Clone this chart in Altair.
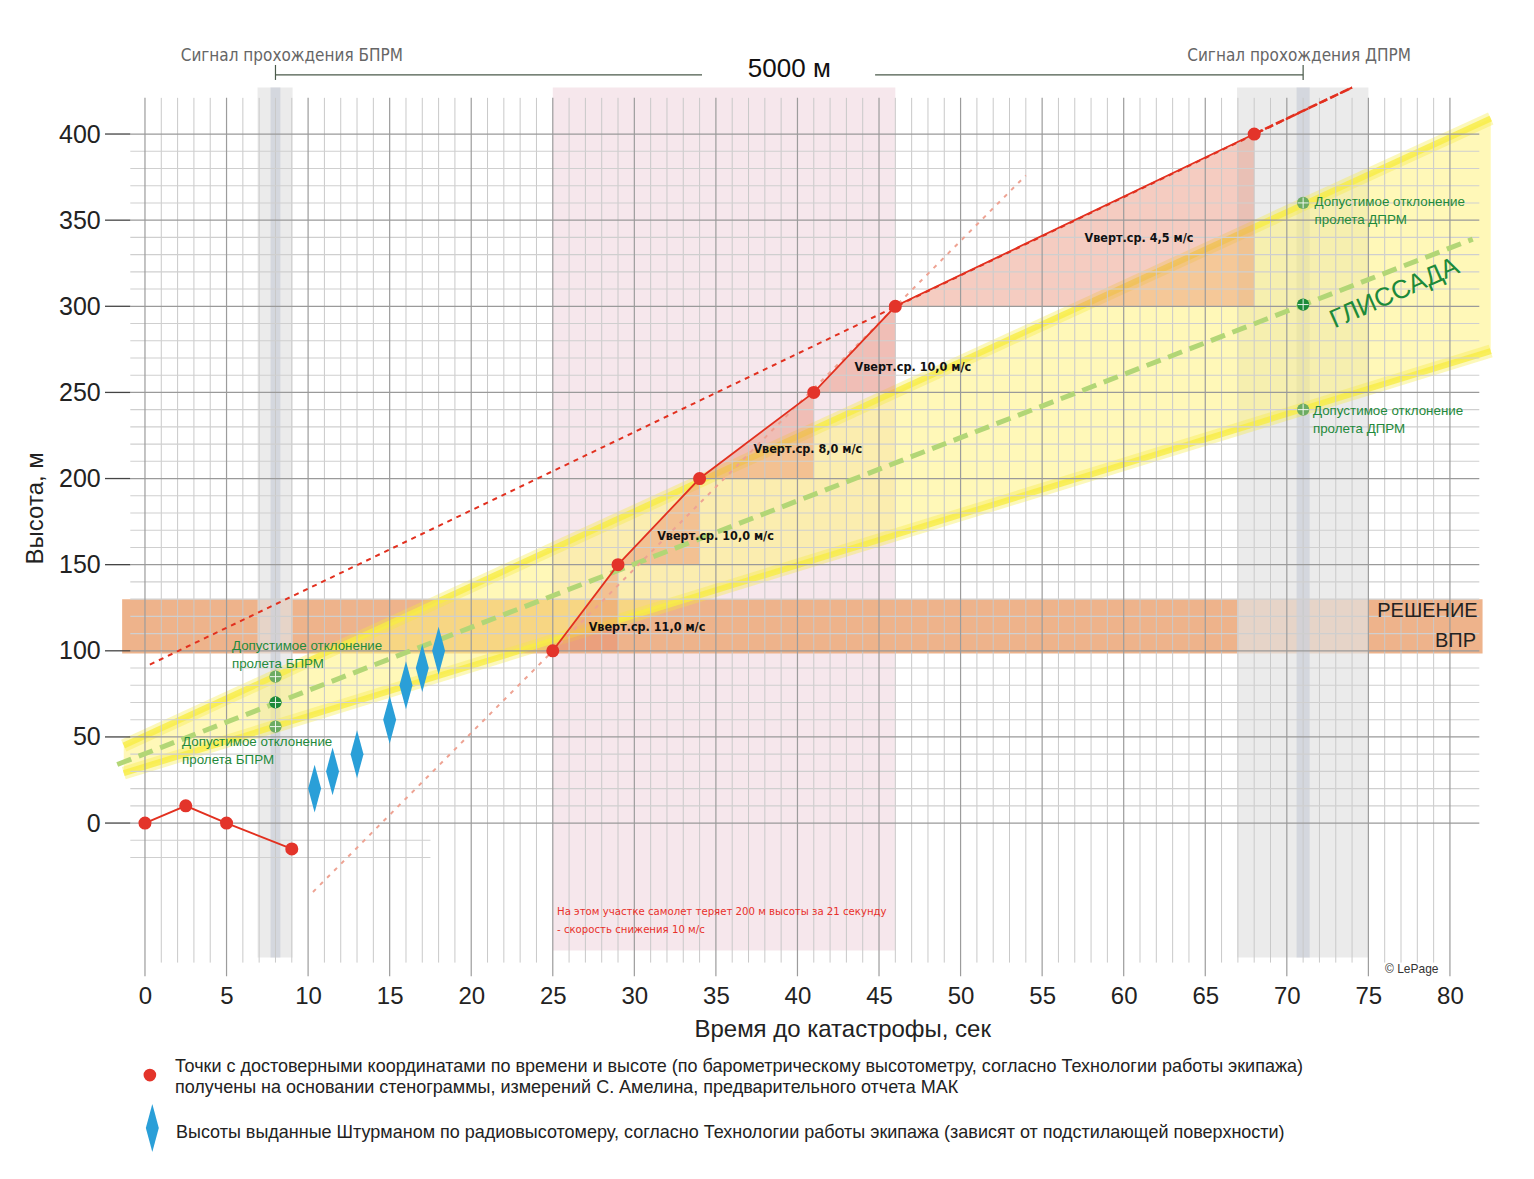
import altair as alt
import pandas as pd

SANS = "Liberation Sans, Arial, Helvetica, sans-serif"
NARROW = "Liberation Sans Narrow, Arial Narrow, DejaVu Sans Condensed, Liberation Sans, sans-serif"

# ---------------- data ----------------
early_t = [0, 2.5, 5, 9]
early_h = [0, 10, 0, -15]

traj_t = [25, 29, 34, 41, 46, 68]
traj_h = [100, 150, 200, 250, 300, 400]
traj_ext_t = [68, 74]
traj_ext_h = [400, 427]

nav_t = [10.4, 11.5, 13, 15, 16, 17, 18]
nav_h = [20, 30, 40, 60, 80, 90, 100]

speed_labels = ["Vверт.ср.  11,0 м/с", "Vверт.ср.  10,0 м/с", "Vверт.ср.  8,0 м/с",
                "Vверт.ср.  10,0 м/с", "Vверт.ср.  4,5 м/с"]
speed_label_t = [27.2, 31.4, 37.3, 43.5, 57.6]
speed_label_h = [114, 166.5, 217, 264.5, 339.5]

glide_band_t = [-1.3, 82.5]
glide_upper_h = [45, 409]
glide_lower_h = [29, 274]
glide_center_t = [-1.7, 81.4]
glide_center_h = [34, 339]

bprm_t = [8, 8, 8]
bprm_h = [85, 70, 56]
dprm_t = [71, 71, 71]
dprm_h = [360, 301, 240]
marker_kind = ["limit", "center", "limit"]

trend_a_t = [0.3, 74]
trend_a_h = [92, 427]
trend_b_t = [10.3, 54]
trend_b_h = [-40, 376]

pink_t = [25, 46]
pink_h = [-74, 427]
vpr_t = [-1.4, 82]
vpr_h = [98.5, 130]
zone_t = [6.9, 66.95]
zone_t2 = [9.05, 75.0]
core_t = [7.7, 70.6]
core_t2 = [8.3, 71.4]
zone_h = [-78, 427]

x_grid = list(range(0, 81))
y_grid = list(range(0, 401, 10))
y_grid_low = [-10, -20]

# ---------------- scales / axes ----------------
xs = alt.Scale(domain=[-2.5, 84], nice=False, zero=False)
ys = alt.Scale(domain=[-90, 428], nice=False, zero=False)
xaxis = alt.Axis(values=list(range(0, 81, 5)), title="Время до катастрофы, сек", grid=False,
                 domain=False, ticks=False, tickSize=0, labelFont=SANS, labelFontSize=24,
                 labelColor="#222", labelPadding=6, titleFont=SANS, titleFontSize=24,
                 titleFontWeight="normal", titleColor="#222", titleX=738, titleY=39,
                 titleAlign="center", titleBaseline="top")
yaxis = alt.Axis(values=list(range(0, 401, 50)), title="Высота, м", grid=False,
                 domain=False, ticks=False, tickSize=0, labelFont=SANS, labelFontSize=25,
                 labelColor="#222", labelPadding=4, titleFont=SANS, titleFontSize=24,
                 titleFontWeight="normal", titleColor="#222", titleX=-62, titleY=422,
                 titleAngle=270, titleAlign="center", titleBaseline="alphabetic")


def X(f):
    return alt.X(f"{f}:Q", scale=xs, axis=xaxis)


def Y(f):
    return alt.Y(f"{f}:Q", scale=ys, axis=yaxis)


layers = []

# background zones
pink_df = pd.DataFrame({"t": [pink_t[0]], "t2": [pink_t[1]], "h": [pink_h[0]], "h2": [pink_h[1]]})
layers.append(alt.Chart(pink_df).mark_rect(color="#f6e7ec").encode(x=X("t"), x2="t2", y=Y("h"), y2="h2"))

vpr_df = pd.DataFrame({"t": [vpr_t[0]], "t2": [vpr_t[1]], "h": [vpr_h[0]], "h2": [vpr_h[1]]})
layers.append(alt.Chart(vpr_df).mark_rect(color="#eeb38b").encode(x=X("t"), x2="t2", y=Y("h"), y2="h2"))

zone_df = pd.DataFrame({"t": zone_t, "t2": zone_t2, "h": [zone_h[0]] * 2, "h2": [zone_h[1]] * 2})
layers.append(alt.Chart(zone_df).mark_rect(color="#e3e3e3", opacity=0.7).encode(x=X("t"), x2="t2", y=Y("h"), y2="h2"))
core_df = pd.DataFrame({"t": core_t, "t2": core_t2, "h": [zone_h[0]] * 2, "h2": [zone_h[1]] * 2})
layers.append(alt.Chart(core_df).mark_rect(color="#ccd0da", opacity=0.75).encode(x=X("t"), x2="t2", y=Y("h"), y2="h2"))

# glide band
band_df = pd.DataFrame({"t": glide_band_t, "lo": glide_lower_h, "hi": glide_upper_h})
layers.append(alt.Chart(band_df).mark_area(color="#fff27e", opacity=0.55).encode(x=X("t"), y=Y("lo"), y2="hi"))
edge_df = pd.DataFrame({"t": glide_band_t * 2, "h": glide_upper_h + glide_lower_h,
                        "e": ["u", "u", "l", "l"]})
layers.append(alt.Chart(edge_df).mark_line(color="#f6ea3a", opacity=0.35, strokeWidth=13).encode(
    x=X("t"), y=Y("h"), detail="e:N"))
layers.append(alt.Chart(edge_df).mark_line(color="#f7ec45", opacity=0.8, strokeWidth=6).encode(
    x=X("t"), y=Y("h"), detail="e:N"))

# vertical speed triangles
tri_rows = []
for i in range(len(traj_t) - 1):
    tri_rows.append({"t": traj_t[i], "h": traj_h[i], "b": traj_h[i], "s": i})
    tri_rows.append({"t": traj_t[i + 1], "h": traj_h[i + 1], "b": traj_h[i], "s": i})
tri_df = pd.DataFrame(tri_rows)
layers.append(alt.Chart(tri_df).mark_area(color="#e8856c", opacity=0.42).encode(
    x=X("t"), y=Y("h"), y2="b", detail="s:N"))

# grid
vmin = pd.DataFrame({"t": [v for v in x_grid if v % 5], "h": 421, "h2": -81})
vmaj = pd.DataFrame({"t": [v for v in x_grid if v % 5 == 0], "h": 421, "h2": -89})
hmin = pd.DataFrame({"h": [v for v in y_grid if v % 50], "t": -0.9, "t2": 81.8})
hmaj = pd.DataFrame({"h": [v for v in y_grid if v % 50 == 0], "t": -0.9, "t2": 81.8})
hlow = pd.DataFrame({"h": y_grid_low, "t": -0.9, "t2": 17.5})
ytick = pd.DataFrame({"h": [v for v in y_grid if v % 50 == 0], "t": -2.45, "t2": -0.9})
layers.append(alt.Chart(vmin).mark_rule(color="#c9c9c9", strokeWidth=1).encode(x=X("t"), y=Y("h"), y2="h2"))
layers.append(alt.Chart(hmin).mark_rule(color="#cfcfcf", strokeWidth=1.1).encode(x=X("t"), x2="t2", y=Y("h")))
layers.append(alt.Chart(hlow).mark_rule(color="#cfcfcf", strokeWidth=1.1).encode(x=X("t"), x2="t2", y=Y("h")))
layers.append(alt.Chart(vmaj).mark_rule(color="#9c9c9c", strokeWidth=1.2).encode(x=X("t"), y=Y("h"), y2="h2"))
layers.append(alt.Chart(hmaj).mark_rule(color="#9a9a9a", strokeWidth=1.3).encode(x=X("t"), x2="t2", y=Y("h")))
layers.append(alt.Chart(ytick).mark_rule(color="#444", strokeWidth=1.3).encode(x=X("t"), x2="t2", y=Y("h")))

# glide path (dashed)
glide_df = pd.DataFrame({"t": glide_center_t, "h": glide_center_h})
layers.append(alt.Chart(glide_df).mark_line(color="#b2d676", strokeWidth=5, strokeDash=[15, 8]).encode(
    x=X("t"), y=Y("h")))

# trend lines
ta = pd.DataFrame({"t": trend_a_t, "h": trend_a_h})
tb = pd.DataFrame({"t": trend_b_t, "h": trend_b_h})
layers.append(alt.Chart(tb).mark_line(color="#eea393", strokeWidth=2, strokeDash=[4, 6]).encode(x=X("t"), y=Y("h")))
layers.append(alt.Chart(ta).mark_line(color="#e2301f", strokeWidth=2, strokeDash=[5, 5]).encode(x=X("t"), y=Y("h")))

# trajectory
early_df = pd.DataFrame({"t": early_t, "h": early_h})
traj_df = pd.DataFrame({"t": traj_t, "h": traj_h})
ext_df = pd.DataFrame({"t": traj_ext_t, "h": traj_ext_h})
for d in (early_df, traj_df):
    layers.append(alt.Chart(d).mark_line(color="#e2301f", strokeWidth=1.8).encode(x=X("t"), y=Y("h")))
layers.append(alt.Chart(ext_df).mark_line(color="#e2301f", strokeWidth=2.6, strokeDash=[9, 3]).encode(x=X("t"), y=Y("h")))
pts_df = pd.concat([early_df, traj_df])
layers.append(alt.Chart(pts_df).mark_point(shape="circle", filled=True, color="#e3342a", opacity=1, size=170).encode(
    x=X("t"), y=Y("h")))

# navigator's radio-altimeter calls
DIAMOND = "M0,-1L0.27,0L0,1L-0.27,0Z"
nav_df = pd.DataFrame({"t": nav_t, "h": nav_h})
layers.append(alt.Chart(nav_df).mark_point(shape=DIAMOND, filled=True, color="#2a9fd8", opacity=1, size=2300).encode(
    x=X("t"), y=Y("h")))

# green markers
green_df = pd.DataFrame({"t": bprm_t + dprm_t, "h": bprm_h + dprm_h, "k": marker_kind * 2})
layers.append(alt.Chart(green_df).mark_point(shape="circle", filled=True, opacity=1, size=150).encode(
    x=X("t"), y=Y("h"),
    color=alt.Color("k:N", scale=alt.Scale(domain=["limit", "center"], range=["#6cab62", "#1d8a3a"]), legend=None)))
CROSS = "M-1,0L1,0M0,-1L0,1"
layers.append(alt.Chart(green_df).mark_point(shape=CROSS, filled=False, color="white", strokeWidth=1, opacity=0.9, size=120).encode(
    x=X("t"), y=Y("h")))

# --------------- texts ---------------
def text_layer(df, **kw):
    return alt.Chart(df).mark_text(**kw).encode(x=X("t"), y=Y("h"), text="s:N")


speed_df = pd.DataFrame({"t": speed_label_t, "h": speed_label_h, "s": speed_labels})
layers.append(text_layer(speed_df, font=NARROW, fontSize=12.5, fontWeight="bold", color="#111", align="left", baseline="middle"))

green_txt = pd.DataFrame({
    "t": [5.33, 5.33, 2.27, 2.27, 71.7, 71.7, 71.6, 71.6],
    "h": [102.8, 92.3, 47, 36.6, 360.5, 350, 239, 228.7],
    "s": ["Допустимое отклонение", "пролета БПРМ", "Допустимое отклонение", "пролета БПРМ",
          "Допустимое отклонение", "пролета ДПРМ", "Допустимое отклонение", "пролета ДПРМ"]})
layers.append(text_layer(green_txt, font=SANS, fontSize=13.4, color="#1f8a3c", align="left", baseline="middle"))

gl_df = pd.DataFrame({"t": [76.6], "h": [307.7], "s": ["ГЛИССАДА"]})
layers.append(text_layer(gl_df, font=SANS, fontSize=26, color="#1d8a3a", align="center", baseline="middle", angle=336))

vpr_txt = pd.DataFrame({"t": [81.7, 81.6], "h": [123, 105.7], "s": ["РЕШЕНИЕ", "ВПР"]})
layers.append(text_layer(vpr_txt, font=SANS, fontSize=20, color="#222", align="right", baseline="middle"))

note_df = pd.DataFrame({"t": [25.26, 25.26], "h": [-51.7, -62.1],
                        "s": ["На этом участке самолет теряет 200 м высоты за 21 секунду",
                              "- скорость снижения 10 м/с"]})
layers.append(text_layer(note_df, font=NARROW, fontSize=11.3, color="#e8302a", align="left", baseline="middle"))

copy_df = pd.DataFrame({"t": [79.3], "h": [-84.8], "s": ["© LePage"]})
layers.append(text_layer(copy_df, font=SANS, fontSize=12, color="#333", align="right", baseline="middle"))

# top annotation: signals and 5000 m distance
sig_line = pd.DataFrame({"t": [8, 44.76], "t2": [34.15, 71], "h": [434.3, 434.3]})
layers.append(alt.Chart(sig_line).mark_rule(color="#4a5a4a", strokeWidth=1.2).encode(x=X("t"), x2="t2", y=Y("h")))
sig_tick = pd.DataFrame({"t": [8, 71], "h": [431.4, 431.4], "h2": [440.1, 440.1]})
layers.append(alt.Chart(sig_tick).mark_rule(color="#4a5a4a", strokeWidth=1.2).encode(x=X("t"), y=Y("h"), y2="h2"))
sig_txt = pd.DataFrame({"t": [9.0, 70.75], "h": [445.3, 445.3],
                        "s": ["Сигнал прохождения БПРМ", "Сигнал прохождения ДПРМ"]})
layers.append(text_layer(sig_txt, font=NARROW, fontSize=17, color="#666", align="center", baseline="middle"))
dist_txt = pd.DataFrame({"t": [39.5], "h": [437.7], "s": ["5000 м"]})
layers.append(text_layer(dist_txt, font=SANS, fontSize=26, color="#111", align="center", baseline="middle"))

# legend at the bottom
leg_c = pd.DataFrame({"t": [0.3], "h": [-146.3]})
layers.append(alt.Chart(leg_c).mark_point(shape="circle", filled=True, color="#e3342a", opacity=1, size=160).encode(
    x=X("t"), y=Y("h")))
leg_d = pd.DataFrame({"t": [0.45], "h": [-177]})
layers.append(alt.Chart(leg_d).mark_point(shape=DIAMOND, filled=True, color="#2a9fd8", opacity=1, size=2300).encode(
    x=X("t"), y=Y("h")))
leg_txt = pd.DataFrame({
    "t": [1.84, 1.84, 1.9],
    "h": [-141.7, -153.9, -180],
    "s": ["Точки с достоверными координатами по времени и высоте (по барометрическому высотометру, согласно Технологии работы экипажа)",
          "получены на основании стенограммы, измерений С. Амелина, предварительного отчета МАК",
          "Высоты выданные Штурманом по радиовысотомеру, согласно Технологии работы экипажа (зависят от подстилающей поверхности)"]})
layers.append(text_layer(leg_txt, font=SANS, fontSize=18, color="#222", align="left", baseline="middle"))

chart = alt.layer(*layers).properties(
    width=1411, height=892.3,
    autosize=alt.AutoSizeParams(type="none"),
    padding={"left": 96.2, "top": 77.8, "right": 10, "bottom": 190},
    background="white",
).configure_view(stroke=None)

chart.save("out.html", embed_options={"renderer": "svg", "actions": False})
